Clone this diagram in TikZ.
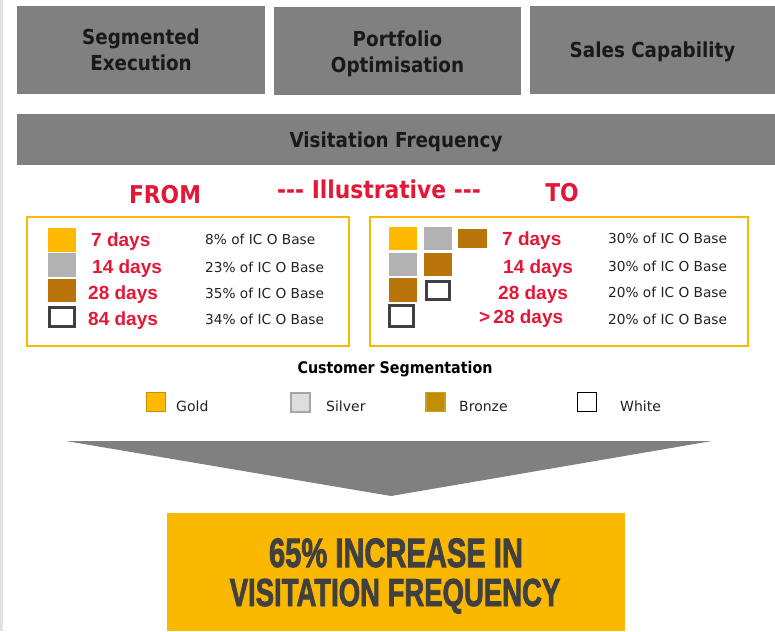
\documentclass[tikz,border=0pt]{standalone}
\usepackage{fontspec}
\setmainfont{DejaVu Sans}
\newfontfamily\redfont{Liberation Sans}
\newfontfamily\headfont{DejaVu Sans Bold}[FakeStretch=0.89]
\newfontfamily\heavyfont{Liberation Sans Bold}[FakeBold=2.4]

\definecolor{boxgray}{RGB}{128,128,128}
\definecolor{stripgray}{RGB}{226,226,226}
\definecolor{redtxt}{RGB}{227,24,55}
\definecolor{frameor}{RGB}{246,186,0}
\definecolor{goldc}{RGB}{255,186,0}
\definecolor{silverc}{RGB}{178,178,178}
\definecolor{bronzec}{RGB}{186,117,10}
\definecolor{edgegray}{RGB}{64,64,64}
\definecolor{goldedge}{RGB}{200,145,0}
\definecolor{lsilver}{RGB}{221,221,221}
\definecolor{lsilveredge}{RGB}{166,166,166}
\definecolor{lbronze}{RGB}{191,143,0}
\definecolor{banner}{RGB}{250,184,0}
\definecolor{bannertxt}{RGB}{64,64,64}
\definecolor{pcttxt}{RGB}{34,34,34}

\tikzset{
  hdrbox/.style={fill=boxgray, inner sep=0pt, align=center, text=black!90,
    text depth=0pt, font=\headfont\fontsize{20.6}{26}\selectfont},
  frame/.style={draw=frameor, line width=2pt, inner sep=0pt},
  sqgold/.style={fill=goldc, inner sep=0pt},
  sqsilver/.style={fill=silverc, inner sep=0pt},
  sqbronze/.style={fill=bronzec, inner sep=0pt},
  sqwhite/.style={draw=edgegray, fill=white, line width=3pt, inner sep=0pt},
  daytxt/.style={anchor=base west, inner sep=0pt, text=redtxt,
    font=\redfont\bfseries\fontsize{19}{19}\selectfont},
  pcttxt/.style={anchor=base west, inner sep=0pt, text=pcttxt,
    font=\fontsize{13.7}{14}\selectfont},
  headred/.style={anchor=base, inner sep=0pt, text=redtxt,
    font=\headfont\fontsize{24.5}{24}\selectfont},
  legsq/.style={minimum width=19pt, minimum height=19pt, inner sep=0pt, line width=1.5pt},
  legtxt/.style={anchor=base west, inner sep=0pt, text=pcttxt,
    font=\fontsize{14}{14}\selectfont},
  restxt/.style={anchor=base, inner sep=0pt, text=bannertxt}
}

\begin{document}
\begin{tikzpicture}[x=1pt, y=-1pt]
  \useasboundingbox (0,0) rectangle (775,631);
  \fill[white] (0,0) rectangle (775,631);
  % thin rule along the left edge
  \fill[stripgray] (0,0) rectangle (2.5,631);

  % top row of pillars
  \node[hdrbox, minimum width=248pt, minimum height=88pt] (seg) at (141,50) {Segmented\\Execution};
  \node[hdrbox, minimum width=247pt, minimum height=88pt] (port) at (397.5,51.5) {Portfolio\\Optimisation};
  \node[hdrbox, minimum width=245pt, minimum height=88pt] (sales) at (652.5,50) {Sales Capability};

  % full-width bar
  \node[hdrbox, minimum width=758pt, minimum height=51pt] (visit) at (396,139.5) {Visitation Frequency};

  % section headings
  \node[headred] (from) at (165,203) {FROM};
  \node[headred] (illus) at (379,198) {-{}-{}- Illustrative -{}-{}-};
  \node[headred] (to) at (562,201) {TO};

  % frames
  \node[frame, minimum width=322pt, minimum height=129pt] (fromframe) at (188,281.5) {};
  \node[frame, minimum width=378pt, minimum height=129pt] (toframe) at (559,281.5) {};

  % FROM: squares
  \node[sqgold, minimum width=28pt, minimum height=24pt] (f1) at (61.5,240) {};
  \node[sqsilver, minimum width=28pt, minimum height=24pt] (f2) at (61.5,265) {};
  \node[sqbronze, minimum width=28pt, minimum height=23pt] (f3) at (61.5,290.5) {};
  \node[sqwhite, minimum width=25pt, minimum height=19pt] (f4) at (61.5,317) {};

  % FROM: labels
  \node[daytxt] (fd1) at (91,246) {7 days};
  \node[daytxt] (fd2) at (92,273) {14 days};
  \node[daytxt] (fd3) at (88,299) {28 days};
  \node[daytxt] (fd4) at (88,325) {84 days};
  \node[pcttxt] (fp1) at (205,244) {8\% of IC O Base};
  \node[pcttxt] (fp2) at (205,272) {23\% of IC O Base};
  \node[pcttxt] (fp3) at (205,298) {35\% of IC O Base};
  \node[pcttxt] (fp4) at (205,324) {34\% of IC O Base};

  % TO: squares
  \node[sqgold, minimum width=28pt, minimum height=23pt] (t11) at (403,238.5) {};
  \node[sqsilver, minimum width=28pt, minimum height=23pt] (t12) at (438,238.5) {};
  \node[sqbronze, minimum width=29pt, minimum height=19pt] (t13) at (472.5,238.5) {};
  \node[sqsilver, minimum width=28pt, minimum height=23pt] (t21) at (403,264.5) {};
  \node[sqbronze, minimum width=28pt, minimum height=23pt] (t22) at (438,264.5) {};
  \node[sqbronze, minimum width=28pt, minimum height=24pt] (t31) at (403,290) {};
  \node[sqwhite, minimum width=23pt, minimum height=18pt] (t32) at (438,290.5) {};
  \node[sqwhite, minimum width=24pt, minimum height=21pt] (t41) at (401.5,316) {};

  % TO: labels
  \node[daytxt] (td1) at (502,245) {7 days};
  \node[daytxt] (td2) at (503,273) {14 days};
  \node[daytxt] (td3) at (498,299) {28 days};
  \node[daytxt] (td4) at (479,323) {\textgreater\,28 days};
  \node[pcttxt] (tp1) at (608,243) {30\% of IC O Base};
  \node[pcttxt] (tp2) at (608,271) {30\% of IC O Base};
  \node[pcttxt] (tp3) at (608,297) {20\% of IC O Base};
  \node[pcttxt] (tp4) at (608,324) {20\% of IC O Base};

  % legend
  \node[anchor=base, inner sep=0pt, font=\headfont\fontsize{16}{16}\selectfont] (legtitle) at (395,373) {Customer Segmentation};
  \node[legsq, fill=goldc, draw=goldedge] (lg) at (156,402) {};
  \node[legtxt] (lgt) at (176,411) {Gold};
  \node[legsq, fill=lsilver, draw=lsilveredge, line width=2pt] (ls) at (300.5,402) {};
  \node[legtxt] (lst) at (326,411) {Silver};
  \node[legsq, fill=lbronze, draw=lbronze!85!white] (lb) at (435.5,402) {};
  \node[legtxt] (lbt) at (459,411) {Bronze};
  \node[legsq, fill=white, draw=black, line width=1pt] (lw) at (586.5,402) {};
  \node[legtxt] (lwt) at (620,411) {White};

  % downward chevron
  \fill[boxgray] (66,441) -- (712,441) -- (391,496) -- cycle;

  % result banner
  \node[fill=banner, minimum width=458pt, minimum height=118pt, inner sep=0pt] (result) at (396,572) {};
  \node[restxt, font=\heavyfont\fontsize{41}{39}\selectfont]
    (res1) at (396,567) {\scalebox{0.71}[1]{65\% INCREASE IN}};
  \node[restxt, font=\heavyfont\fontsize{39}{39}\selectfont]
    (res2) at (395,606) {\scalebox{0.705}[1]{VISITATION FREQUENCY}};
\end{tikzpicture}
\end{document}
